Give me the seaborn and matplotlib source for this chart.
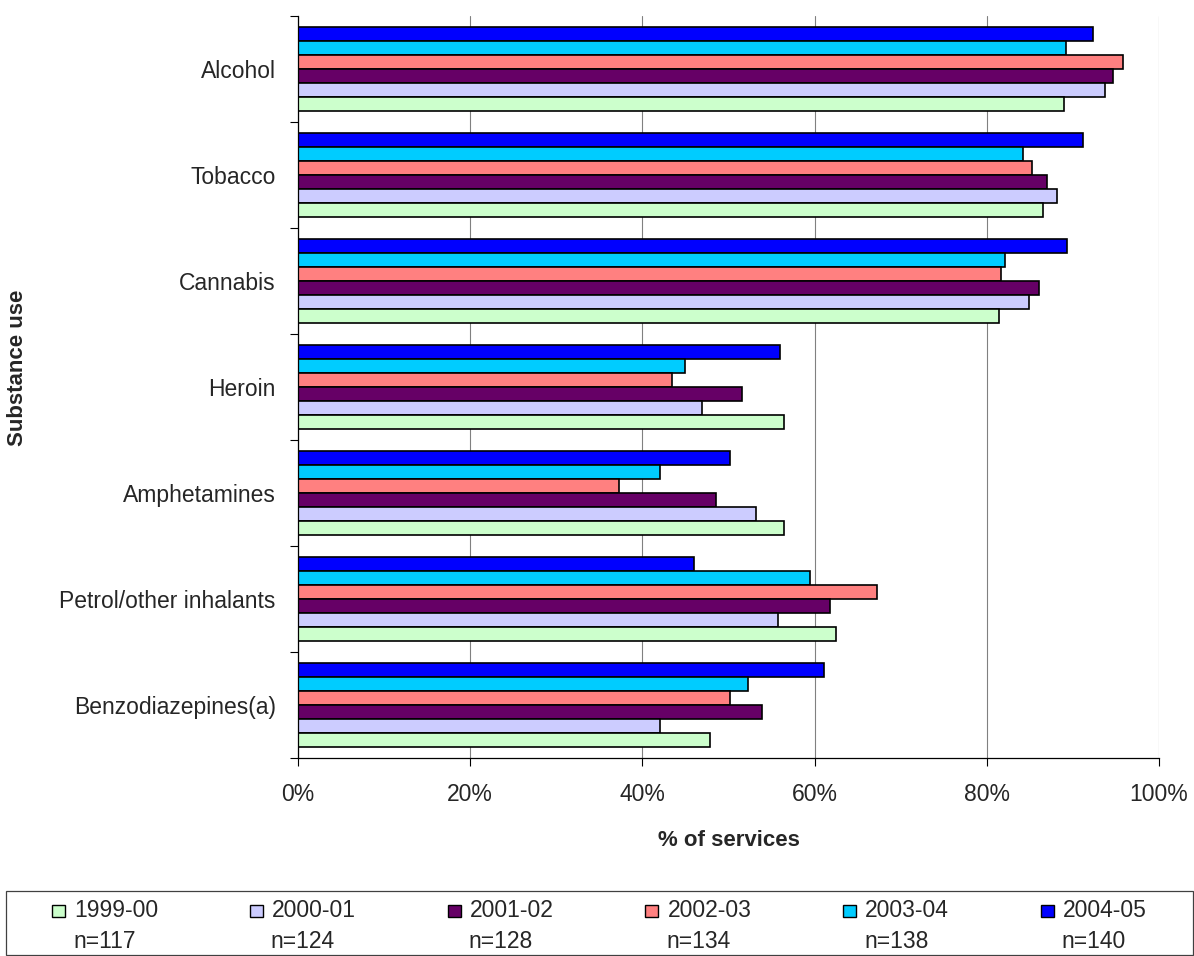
import numpy as np
import pandas as pd
import matplotlib
matplotlib.use("Agg")
import matplotlib.pyplot as plt
from matplotlib.patches import Rectangle
import seaborn as sns

# Share of services reporting each substance, by financial year (%)
substances = ["Alcohol", "Tobacco", "Cannabis", "Heroin", "Amphetamines",
              "Petrol/other inhalants", "Benzodiazepines(a)"]
years = ["1999-00", "2000-01", "2001-02", "2002-03", "2003-04", "2004-05"]
sample_sizes = ["n=117", "n=124", "n=128", "n=134", "n=138", "n=140"]

pct_1999_00 = [89.0, 86.5, 81.4, 56.5, 56.5, 62.5, 47.9]
pct_2000_01 = [93.7, 88.1, 84.9, 46.9, 53.2, 55.8, 42.0]
pct_2001_02 = [94.6, 87.0, 86.1, 51.6, 48.5, 61.8, 53.9]
pct_2002_03 = [95.8, 85.3, 81.6, 43.4, 37.3, 67.2, 50.2]
pct_2003_04 = [89.2, 84.2, 82.1, 45.0, 42.0, 59.5, 52.3]
pct_2004_05 = [92.3, 91.2, 89.3, 56.0, 50.2, 46.0, 61.1]

year_colors = ["#CCFFCC", "#CCCCFF", "#660066", "#FF8080", "#00CCFF", "#0000FF"]
x_ticks = [0, 20, 40, 60, 80, 100]

series = [pct_1999_00, pct_2000_01, pct_2001_02, pct_2002_03, pct_2003_04, pct_2004_05]
df = pd.DataFrame(
    [(s, y, v) for y, vals in zip(years, series) for s, v in zip(substances, vals)],
    columns=["substance", "year", "pct"],
)

sns.set_style("ticks")
plt.rcParams["font.family"] = ["Liberation Sans", "DejaVu Sans"]

FS = 16.5   # text size used throughout
W, H = 1194, 956
fig = plt.figure(figsize=(W / 100, H / 100), dpi=100)

left, right, top, bottom = 298, 1159, 16, 758
ax = fig.add_axes([left / W, 1 - bottom / H, (right - left) / W, (bottom - top) / H])

palette = dict(zip(years, year_colors))
sns.barplot(data=df, x="pct", y="substance", hue="year", hue_order=years[::-1],
            order=substances, palette=palette, orient="h", saturation=1,
            edgecolor="black", linewidth=1.2, width=0.8, legend=False, ax=ax)

ax.set_xlim(0, 100)
ax.set_ylim(len(substances) - 0.5, -0.5)
ax.set_axisbelow(True)

# vertical gridlines
ax.set_xticks(x_ticks)
ax.set_xticklabels([f"{t}%" for t in x_ticks], fontsize=FS)
ax.xaxis.grid(True, color="#808080", linewidth=0.8)
ax.yaxis.grid(False)

# category labels centred, ticks on the category boundaries
ax.set_yticks(range(len(substances)))
ax.set_yticklabels(substances, fontsize=FS)
ax.set_yticks(np.arange(-0.5, len(substances), 1.0), minor=True)
ax.tick_params(axis="y", which="major", left=True, length=0, pad=16)
ax.tick_params(axis="y", which="minor", left=True, length=6, width=0.8,
               color="black", direction="out")
ax.tick_params(axis="x", which="major", bottom=True, length=6, width=0.8,
               color="black", direction="out", pad=12)

for side in ("top", "right"):
    ax.spines[side].set_visible(False)
for side in ("left", "bottom"):
    ax.spines[side].set_color("black")
    ax.spines[side].set_linewidth(0.9)

ax.set_xlabel("")
ax.set_ylabel("")

fig.text((left + right) / 2 / W, 1 - 840 / H, "% of services", ha="center", va="center",
         fontsize=FS - 0.5, fontweight="bold")
fig.text(18 / W, 1 - 368 / H, "Substance use", ha="center", va="center", rotation=90,
         fontsize=FS - 0.5, fontweight="bold")

# legend box with two-line entries
fig.add_artist(Rectangle((6 / W, 1 - 955 / H), (1193 - 6) / W, (955 - 891) / H,
                         transform=fig.transFigure, facecolor="white",
                         edgecolor="#404040", linewidth=0.9))
label_texts = []
entry_x = [52 + 197.8 * i for i in range(len(years))]
for xm, yr, col in zip(entry_x, years, year_colors):
    fig.add_artist(Rectangle((xm / W, 1 - 917 / H), 13 / W, 12 / H,
                             transform=fig.transFigure, facecolor=col,
                             edgecolor="black", linewidth=1.0))
    t = fig.text((xm + 22) / W, 1 - 917 / H, yr, ha="left", va="baseline", fontsize=FS)
    label_texts.append(t)

fig.canvas.draw()
renderer = fig.canvas.get_renderer()
for xm, t, n in zip(entry_x, label_texts, sample_sizes):
    x1 = t.get_window_extent(renderer).x1
    cx = (xm + x1) / 2
    fig.text(cx / W, 1 - 948 / H, n, ha="center", va="baseline", fontsize=FS)

fig.savefig("out.png", dpi=100)
